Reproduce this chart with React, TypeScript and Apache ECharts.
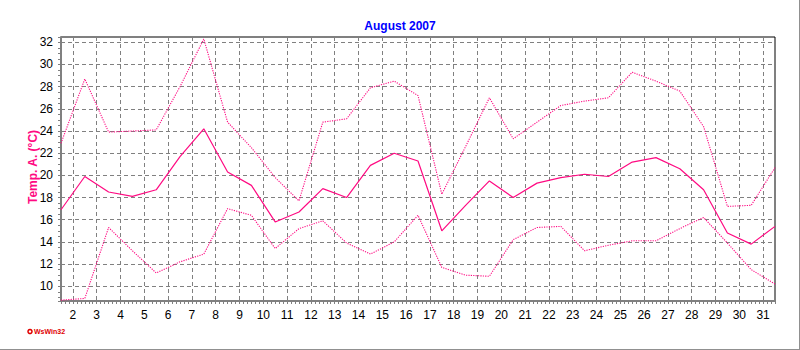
import React, { useEffect, useRef } from "react";
import * as echarts from "echarts";

const days = [1, 2, 3, 4, 5, 6, 7, 8, 9, 10, 11, 12, 13, 14, 15, 16, 17, 18, 19, 20, 21, 22, 23, 24, 25, 26, 27, 28, 29, 30, 31];
const maxTemp = [22.9, 28.7, 23.9, 24.0, 24.1, 28.0, 32.3, 24.8, 22.5, 19.8, 17.7, 24.8, 25.1, 27.9, 28.5, 27.2, 18.3, 22.6, 27.0, 23.3, 24.8, 26.3, 26.7, 27.0, 29.3, 28.5, 27.6, 24.4, 17.2, 17.3, 20.7];
const meanTemp = [16.9, 19.9, 18.5, 18.1, 18.7, 21.7, 24.2, 20.3, 19.1, 15.8, 16.7, 18.8, 18.0, 20.9, 22.0, 21.3, 15.0, 17.3, 19.5, 18.0, 19.3, 19.8, 20.1, 19.9, 21.2, 21.6, 20.6, 18.7, 14.8, 13.8, 15.4];
const minTemp = [8.75, 8.9, 15.3, 13.2, 11.2, 12.2, 12.9, 17.0, 16.4, 13.4, 15.2, 15.9, 13.9, 12.9, 14.0, 16.4, 11.7, 11.0, 10.9, 14.2, 15.3, 15.4, 13.2, 13.7, 14.1, 14.1, 15.2, 16.2, 13.9, 11.5, 10.2];

const titleText = "August 2007";
const yAxisTitle = "Temp. A. (°C)";
const logoText = "WsWin32";

const PINK = "#ff0a82";
const GRID_GRAY = "#808080";
const FONT = 'Arial, "Liberation Sans", sans-serif';

const toPairs = (vals: number[]) => days.map((d, i) => [d + 0.5, vals[i]]);

export default function App() {
  const ref = useRef<HTMLDivElement>(null);
  useEffect(() => {
    if (!ref.current) return;
    const chart = echarts.init(ref.current, null, { renderer: "svg" });
    chart.setOption({
      animation: false,
      backgroundColor: "#ffffff",
      title: {
        text: titleText,
        left: "center",
        top: 15,
        textStyle: { color: "#0000ff", fontSize: 12, fontWeight: "bold", fontFamily: FONT },
      },
      grid: {
        left: 61,
        top: 37,
        right: 25,
        bottom: 49,
        show: true,
        borderColor: "#000000",
        borderWidth: 1,
        backgroundColor: "transparent",
      },
      xAxis: {
        type: "value",
        min: 1.5,
        max: 31.5,
        minInterval: 1,
        maxInterval: 1,
        axisLine: { show: true, lineStyle: { color: GRID_GRAY, width: 2 } },
        axisTick: { show: true, length: 3, lineStyle: { color: GRID_GRAY } },
        minorTick: { show: true, splitNumber: 6, length: 3, lineStyle: { color: GRID_GRAY } },
        axisLabel: {
          showMinLabel: false,
          showMaxLabel: false,
          margin: 8,
          color: "#000",
          fontSize: 12,
          fontFamily: FONT,
        },
        splitLine: { show: true, lineStyle: { color: GRID_GRAY, type: [4, 3], width: 1 } },
      },
      yAxis: {
        type: "value",
        min: 8.67,
        max: 32.48,
        minInterval: 2,
        maxInterval: 2,
        axisLine: { show: true, lineStyle: { color: GRID_GRAY, width: 2 } },
        axisTick: { show: true, length: 3, lineStyle: { color: GRID_GRAY } },
        minorTick: { show: true, splitNumber: 4, length: 3, lineStyle: { color: GRID_GRAY } },
        axisLabel: {
          showMinLabel: false,
          showMaxLabel: false,
          margin: 8,
          color: "#000",
          fontSize: 12,
          fontFamily: FONT,
        },
        splitLine: { show: true, lineStyle: { color: GRID_GRAY, type: [4, 3], width: 1 } },
      },
      series: [
        {
          name: "Max",
          type: "line",
          data: toPairs(maxTemp),
          showSymbol: false,
          silent: true,
          lineStyle: { color: PINK, width: 1.1, type: [1.2, 1.2] },
        },
        {
          name: "Mean",
          type: "line",
          data: toPairs(meanTemp),
          showSymbol: false,
          silent: true,
          lineStyle: { color: PINK, width: 1.2, type: "solid" },
        },
        {
          name: "Min",
          type: "line",
          data: toPairs(minTemp),
          showSymbol: false,
          silent: true,
          lineStyle: { color: PINK, width: 1.1, type: [1.2, 1.2] },
        },
      ],
      graphic: [
        {
          type: "text",
          x: 33,
          y: 167,
          rotation: Math.PI / 2,
          style: {
            text: yAxisTitle,
            fill: PINK,
            font: `bold 12px ${FONT}`,
            align: "center",
            verticalAlign: "middle",
          },
        },
        {
          type: "circle",
          shape: { cx: 30, cy: 331.5, r: 2 },
          style: { fill: "#ffffff", stroke: "#e00000", lineWidth: 1.5 },
        },
        {
          type: "text",
          x: 34,
          y: 331.5,
          style: {
            text: logoText,
            fill: "#e00000",
            font: `bold 7px ${FONT}`,
            align: "left",
            verticalAlign: "middle",
          },
        },
        {
          type: "line",
          shape: { x1: 799.5, y1: 0, x2: 799.5, y2: 350 },
          style: { stroke: "#909090", lineWidth: 1 },
        },
        {
          type: "line",
          shape: { x1: 0, y1: 349.5, x2: 800, y2: 349.5 },
          style: { stroke: "#909090", lineWidth: 1 },
        },
      ],
    });
    return () => chart.dispose();
  }, []);
  return (
    <div
      ref={ref}
      style={{ position: "absolute", left: 0, top: 0, width: 800, height: 350 }}
    />
  );
}
